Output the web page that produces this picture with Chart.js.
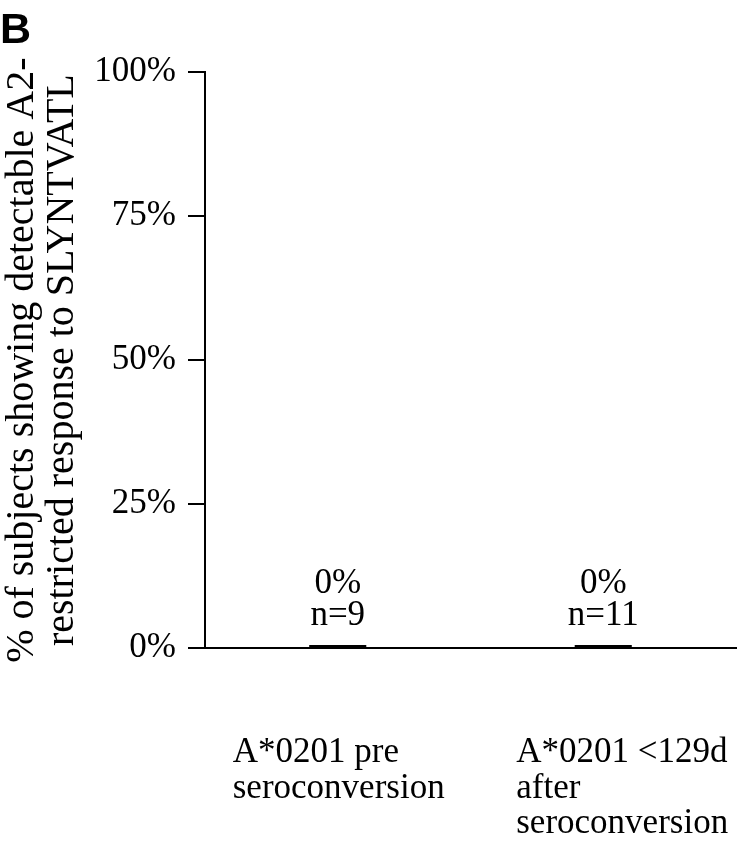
<!DOCTYPE html>
<html>
<head>
<meta charset="utf-8">
<script src="https://cdn.jsdelivr.net/npm/chart.js@4.4.0/dist/chart.umd.min.js"></script>
<style>
    html, body { margin: 0; padding: 0; background: #fff; }
</style>
</head>
<body>
<canvas id="chart" width="741" height="853"></canvas>
<script>
// ─── Data ────────────────────────────────────────────────────────────────────

const groups   = [['A*0201 pre', 'seroconversion'], ['A*0201 <129d', 'after', 'seroconversion']];
const pctResp  = [0, 0];          // % of subjects responding
const nSubj    = [9, 11];         // group sizes
const yTicks   = [0, 25, 50, 75, 100];

const SERIF = "'Liberation Serif', 'Times New Roman', serif";

// labels over each bar: "0%" and "n=9"
const barNotes = {
    id: 'barNotes',
    afterDatasetsDraw(chart) {
        const ctx  = chart.ctx;
        const meta = chart.getDatasetMeta(0);
        ctx.save();
        ctx.font         = '35px ' + SERIF;
        ctx.fillStyle    = '#000';
        ctx.textAlign    = 'center';
        ctx.textBaseline = 'alphabetic';
        meta.data.forEach((bar, i) => {
            ctx.fillText(pctResp[i] + '%',  bar.x, bar.y - 52);
            ctx.fillText('n=' + nSubj[i],   bar.x, bar.y - 20);
        });
        ctx.restore();
    },
};

// category labels, left-aligned blocks hanging under each tick
const groupLabels = {
    id: 'groupLabels',
    afterDraw(chart) {
        const ctx   = chart.ctx;
        const xs    = chart.scales.x;
        const shift = [-105, -87];
        ctx.save();
        ctx.font         = '35px ' + SERIF;
        ctx.fillStyle    = '#000';
        ctx.textAlign    = 'left';
        ctx.textBaseline = 'alphabetic';
        groups.forEach((lines, i) => {
            const px = xs.getPixelForTick(i) + shift[i];
            lines.forEach((t, j) => ctx.fillText(t, px, xs.top + 114 + j * 35.5));
        });
        ctx.restore();
    },
};

new Chart(document.getElementById('chart').getContext('2d'), {
    type: 'bar',
    data: {
        labels: groups,
        datasets: [{
            data: pctResp,
            backgroundColor: '#000',
            borderWidth: 0,
            barPercentage: 0.215,
            categoryPercentage: 1,
            minBarLength: 3,
        }],
    },
    options: {
        responsive: false,
        devicePixelRatio: 1,
        animation: false,
        layout: { padding: { left: 0, right: 5, top: 0, bottom: 14 } },
        plugins: {
            legend:  { display: false },
            tooltip: { enabled: false },
            title: {
                display: true,
                text: 'B',
                align: 'start',
                color: '#000',
                font: { family: "'Liberation Sans', Arial, sans-serif", size: 43, weight: 'bold', lineHeight: 1.1 },
                padding: { top: 7, bottom: 18 },
            },
        },
        scales: {
            x: {
                offset: true,
                grid:   { display: false, drawTicks: false },
                border: { display: true, color: '#000', width: 2 },
                ticks:  { display: false },
                afterFit(s) { s.height = 191; },
            },
            y: {
                min: 0,
                max: 100,
                afterBuildTicks(s) { s.ticks = yTicks.map(v => ({ value: v })); },
                grid:   { drawOnChartArea: false, drawTicks: true, tickLength: 17, color: '#000', lineWidth: 2 },
                border: { color: '#000', width: 2 },
                ticks: {
                    color: '#000',
                    font: { family: SERIF, size: 35 },
                    padding: 12,
                    callback: v => v + '%',
                },
                title: {
                    display: true,
                    text: ['% of subjects showing detectable A2-', 'restricted response to SLYNTVATL'],
                    color: '#000',
                    font: { family: SERIF, size: 40, lineHeight: 1.0 },
                    padding: { top: 2, bottom: 0 },
                },
                afterFit(s) { s.width = 205; },
            },
        },
    },
    plugins: [barNotes, groupLabels],
});
</script>
</body>
</html>
